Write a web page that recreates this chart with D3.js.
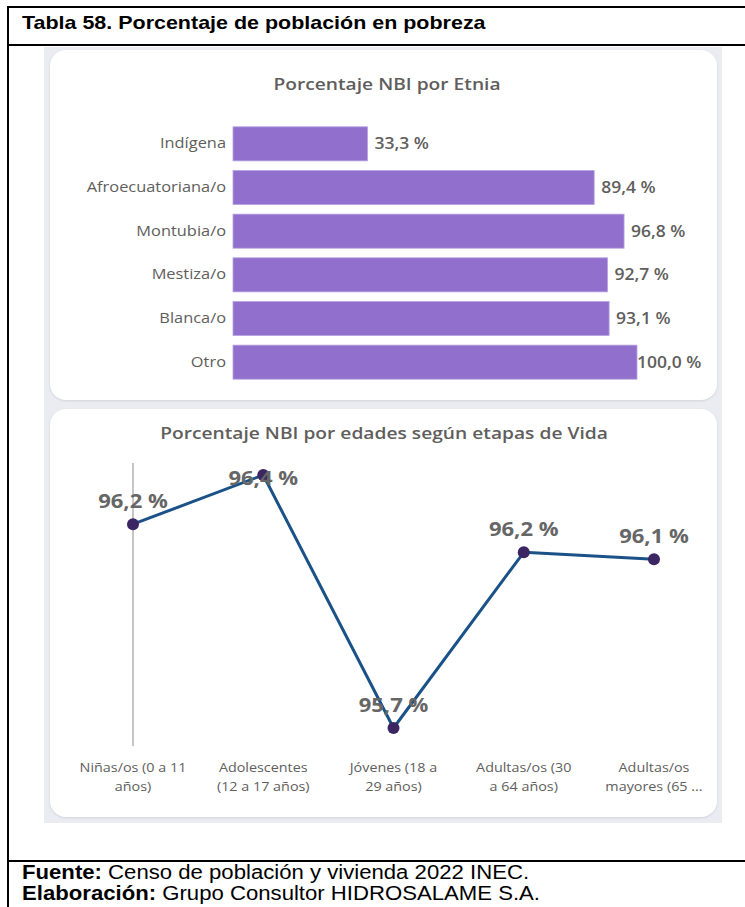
<!DOCTYPE html>
<html>
<head>
<meta charset="utf-8">
<script src="https://cdn.jsdelivr.net/npm/d3@7"></script>
<style>
    html, body { margin: 0; padding: 0; background: #fff; }
    svg { display: block; }
</style>
</head>
<body>
<div id="chart"></div>
<script>
// Data
let etniaCategories = ["Indígena", "Afroecuatoriana/o", "Montubia/o", "Mestiza/o", "Blanca/o", "Otro"];
let etniaValues = [33.3, 89.4, 96.8, 92.7, 93.1, 100.0];

let edadCategories = ["Niñas/os (0 a 11 años)", "Adolescentes (12 a 17 años)", "Jóvenes (18 a 29 años)", "Adultas/os (30 a 64 años)", "Adultas/os mayores (65 años y más)"];
let edadValues = [96.24, 96.38, 95.66, 96.16, 96.14];
let edadTickLines = [
    ["Niñas/os (0 a 11", "años)"],
    ["Adolescentes", "(12 a 17 años)"],
    ["Jóvenes (18 a", "29 años)"],
    ["Adultas/os (30", "a 64 años)"],
    ["Adultas/os", "mayores (65 ..."]
];

let WIDTH = 745, HEIGHT = 907;
let STRETCH = 1.13; // the source picture is a little wide
let PBI_FONT = "'Open Sans', 'Noto Sans', sans-serif";
let ARIAL = "'Liberation Sans', Arial, sans-serif";
let TEXT_GREY = "#605e5c";
let fmt = function(v){ return d3.format(".1f")(v).replace(".", ",") + " %"; };

// widen text horizontally around its anchor x
function stretch(selection){
    selection.each(function(){
        let el = d3.select(this);
        let x = +el.attr("x") || 0;
        el.attr("transform", "translate(" + x + ",0) scale(" + STRETCH + ",1) translate(" + (-x) + ",0)");
    });
}

let svg = d3.select("#chart").append("svg")
    .attr("width", WIDTH)
    .attr("height", HEIGHT);

// Table frame
let frame = svg.append("g").attr("stroke", "#000").attr("stroke-width", 2);
frame.append("line").attr("x1", 8).attr("x2", WIDTH).attr("y1", 7).attr("y2", 7);
frame.append("line").attr("x1", 8).attr("x2", WIDTH).attr("y1", 45).attr("y2", 45);
frame.append("line").attr("x1", 8).attr("x2", WIDTH).attr("y1", 861).attr("y2", 861);
frame.append("line").attr("x1", 8).attr("x2", 8).attr("y1", 6).attr("y2", HEIGHT);

svg.append("text")
    .attr("x", 22).attr("y", 29)
    .style("font-family", ARIAL).style("font-size", "19px").style("font-weight", "bold")
    .text("Tabla 58. Porcentaje de población en pobreza")
    .call(stretch);

let foot = svg.append("g").style("font-family", ARIAL).style("font-size", "19.6px");
let f1 = foot.append("text").attr("x", 22).attr("y", 879);
f1.append("tspan").style("font-weight", "bold").text("Fuente:");
f1.append("tspan").text(" Censo de población y vivienda 2022 INEC.");
let f2 = foot.append("text").attr("x", 22).attr("y", 900);
f2.append("tspan").style("font-weight", "bold").text("Elaboración:");
f2.append("tspan").text(" Grupo Consultor HIDROSALAME S.A.");
foot.selectAll("text").call(stretch);

// Dashboard background + cards
svg.append("rect").attr("x", 44).attr("y", 47).attr("width", 678).attr("height", 776).attr("fill", "#eaecf1");

let defs = svg.append("defs");
let shadow = defs.append("filter").attr("id", "shadow").attr("x", "-5%").attr("y", "-5%").attr("width", "110%").attr("height", "110%");
shadow.append("feDropShadow").attr("dx", 0).attr("dy", 1).attr("stdDeviation", 1).attr("flood-color", "#c8ccd6").attr("flood-opacity", 0.8);

function card(y, h){
    svg.append("rect")
        .attr("x", 50).attr("y", y).attr("width", 667).attr("height", h)
        .attr("rx", 16).attr("ry", 16)
        .attr("fill", "#fff")
        .attr("filter", "url(#shadow)");
}
card(50, 350);
card(409, 408);

// Bar chart
svg.append("text")
    .attr("x", 387).attr("y", 90)
    .attr("text-anchor", "middle")
    .style("font-family", PBI_FONT).style("font-size", "17px").style("font-weight", 600)
    .attr("fill", TEXT_GREY)
    .text("Porcentaje NBI por Etnia")
    .call(stretch);

let barX = d3.scaleLinear().domain([0, 100]).range([233, 637]);
let barY = d3.scaleBand().domain(etniaCategories).range([122, 384]).paddingInner(0.22).paddingOuter(0.11);

let barG = svg.append("g");
barG.append("g")
    .attr("transform", "translate(233,0)")
    .call(d3.axisLeft(barY).tickSize(0).tickPadding(7))
    .call(function(g){ g.select(".domain").remove(); })
    .selectAll("text")
    .style("font-family", PBI_FONT).style("font-size", "14.5px")
    .attr("fill", TEXT_GREY)
    .call(stretch);

barG.selectAll(".bar")
    .data(etniaValues)
    .enter().append("rect")
    .attr("class", "bar")
    .attr("x", barX(0))
    .attr("y", function(d, i){ return barY(etniaCategories[i]); })
    .attr("width", function(d){ return barX(d) - barX(0); })
    .attr("height", barY.bandwidth())
    .attr("fill", "#9070cc")
    .attr("stroke", "#b7a3e0")
    .attr("stroke-width", 0.8);

barG.selectAll(".bar-label")
    .data(etniaValues)
    .enter().append("text")
    .attr("class", "bar-label")
    .attr("x", function(d){ return d >= 100 ? barX(d) : barX(d) + 7; })
    .attr("y", function(d, i){ return barY(etniaCategories[i]) + barY.bandwidth() / 2; })
    .attr("dy", "0.35em")
    .style("font-family", PBI_FONT).style("font-size", "15.5px").style("font-weight", 600)
    .attr("fill", TEXT_GREY)
    .text(fmt)
    .call(stretch);

// Line chart
svg.append("text")
    .attr("x", 384).attr("y", 439)
    .attr("text-anchor", "middle")
    .style("font-family", PBI_FONT).style("font-size", "17px").style("font-weight", 600)
    .attr("fill", TEXT_GREY)
    .text("Porcentaje NBI por edades según etapas de Vida")
    .call(stretch);

let lineX = d3.scalePoint().domain(edadCategories).range([133, 654]);
let lineY = d3.scaleLinear().domain(d3.extent(edadValues)).range([728, 475]);

let lineG = svg.append("g");

// hover line on first category
lineG.append("line")
    .attr("x1", lineX(edadCategories[0])).attr("x2", lineX(edadCategories[0]))
    .attr("y1", 463).attr("y2", 746)
    .attr("stroke", "#c6c6c6").attr("stroke-width", 2);

let line = d3.line()
    .x(function(d, i){ return lineX(edadCategories[i]); })
    .y(function(d){ return lineY(d); });

lineG.append("path")
    .datum(edadValues)
    .attr("d", line)
    .attr("fill", "none")
    .attr("stroke", "#1a5288")
    .attr("stroke-width", 3)
    .attr("stroke-linejoin", "round");

lineG.selectAll(".dot")
    .data(edadValues)
    .enter().append("circle")
    .attr("class", "dot")
    .attr("cx", function(d, i){ return lineX(edadCategories[i]); })
    .attr("cy", function(d){ return lineY(d); })
    .attr("r", 6)
    .attr("fill", "#3b2563");

lineG.selectAll(".point-label")
    .data(edadValues)
    .enter().append("text")
    .attr("class", "point-label")
    .attr("x", function(d, i){ return lineX(edadCategories[i]); })
    .attr("y", function(d){ return Math.max(lineY(d) - 23, 478); })
    .attr("dy", "0.35em")
    .attr("text-anchor", "middle")
    .style("font-family", PBI_FONT).style("font-size", "19.5px").style("font-weight", 700)
    .attr("fill", "#666")
    .text(fmt)
    .call(stretch);

let ticks = lineG.selectAll(".tick-label")
    .data(edadTickLines)
    .enter().append("text")
    .attr("class", "tick-label")
    .attr("x", function(d, i){ return lineX(edadCategories[i]); })
    .attr("y", 772)
    .attr("text-anchor", "middle")
    .style("font-family", PBI_FONT).style("font-size", "12.7px")
    .attr("fill", TEXT_GREY);

ticks.selectAll("tspan")
    .data(function(d){ return d; })
    .enter().append("tspan")
    .attr("x", function(){ return d3.select(this.parentNode).attr("x"); })
    .attr("dy", function(d, i){ return i === 0 ? 0 : 19; })
    .text(function(d){ return d; });
ticks.call(stretch);
</script>
</body>
</html>
